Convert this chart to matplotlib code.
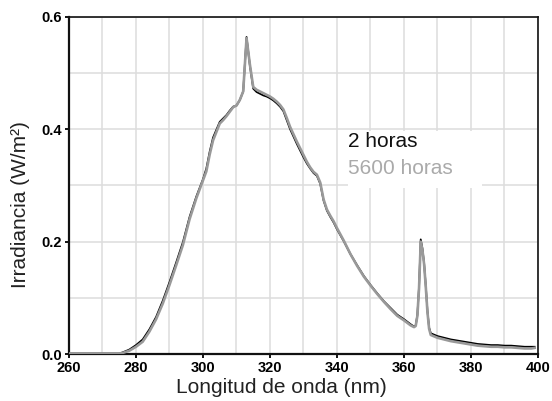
import matplotlib
matplotlib.use("Agg")
import matplotlib.pyplot as plt
from matplotlib.lines import Line2D
from matplotlib.patches import Rectangle

plt.rcParams['font.family'] = ['Liberation Sans', 'DejaVu Sans']

# Wavelength (nm)
wavelength = [260, 265, 270, 275, 276, 278, 280, 282, 284, 286, 288, 290, 292, 294, 296, 298,
              300, 301, 302, 303, 304, 305, 306, 307, 308, 309, 310, 311, 312, 313, 314, 315,
              316, 317, 318, 319, 320, 321, 322, 323, 324, 325, 326, 327, 328, 329, 330, 331,
              332, 333, 334, 335, 336, 337, 338, 339, 340, 342, 344, 346, 348, 350, 352, 354,
              356, 358, 360, 362, 363, 363.5, 364, 364.5, 365, 365.5, 366, 366.5, 367, 367.5,
              368, 370, 372, 374, 376, 378, 380, 382, 384, 386, 388, 390, 392, 394, 396, 398, 399]

# Irradiance after 5600 hours (grey)
irr_5600h = [0.001, 0.001, 0.001, 0.001, 0.002, 0.006, 0.013, 0.022, 0.040, 0.062, 0.090, 0.123,
             0.158, 0.194, 0.240, 0.277, 0.309, 0.325, 0.355, 0.380, 0.395, 0.410, 0.416, 0.423,
             0.431, 0.439, 0.442, 0.452, 0.467, 0.562, 0.515, 0.475, 0.470, 0.467, 0.464, 0.461,
             0.458, 0.454, 0.449, 0.443, 0.435, 0.420, 0.404, 0.391, 0.378, 0.366, 0.354, 0.342,
             0.332, 0.324, 0.319, 0.305, 0.275, 0.257, 0.246, 0.236, 0.224, 0.202, 0.178, 0.157,
             0.138, 0.122, 0.107, 0.093, 0.080, 0.068, 0.060, 0.051, 0.048, 0.050, 0.068, 0.118,
             0.200, 0.185, 0.160, 0.120, 0.075, 0.045, 0.034, 0.029, 0.026, 0.023, 0.021, 0.019,
             0.017, 0.015, 0.014, 0.013, 0.013, 0.012, 0.012, 0.011, 0.010, 0.010, 0.011]

# Irradiance after 2 hours (black)
irr_2h = [0.001, 0.001, 0.001, 0.001, 0.003, 0.008, 0.016, 0.026, 0.044, 0.066, 0.095, 0.128,
          0.163, 0.199, 0.244, 0.280, 0.311, 0.330, 0.360, 0.385, 0.399, 0.413, 0.419, 0.425,
          0.433, 0.440, 0.442, 0.452, 0.467, 0.564, 0.513, 0.472, 0.466, 0.463, 0.460, 0.458,
          0.455, 0.451, 0.446, 0.440, 0.432, 0.416, 0.400, 0.387, 0.374, 0.362, 0.350, 0.339,
          0.330, 0.322, 0.317, 0.303, 0.273, 0.255, 0.244, 0.234, 0.222, 0.201, 0.178, 0.158,
          0.139, 0.123, 0.108, 0.094, 0.082, 0.070, 0.062, 0.053, 0.049, 0.051, 0.070, 0.120,
          0.204, 0.188, 0.162, 0.122, 0.077, 0.047, 0.037, 0.032, 0.029, 0.026, 0.024, 0.022,
          0.020, 0.018, 0.017, 0.016, 0.016, 0.015, 0.015, 0.014, 0.013, 0.013, 0.013]

series_labels = ['2 horas', '5600 horas']
x_ticks = [260, 280, 300, 320, 340, 360, 380, 400]
y_ticks = [0.0, 0.2, 0.4, 0.6]

fig = plt.figure(figsize=(5.52, 4.01), dpi=100)
ax = fig.add_axes([0.125, 0.117, 0.8496, 0.8414])

ax.plot(wavelength, irr_2h, color='black', lw=1.3, zorder=3)
ax.plot(wavelength, irr_5600h, color='#999999', lw=1.9, zorder=4)

ax.set_xlim(260, 400)
ax.set_ylim(0, 0.6)
ax.set_xticks(x_ticks)
ax.set_yticks(y_ticks)
ax.set_xticklabels([str(t) for t in x_ticks], fontweight='bold', fontsize=10.5)
ax.set_yticklabels(['%.1f' % t for t in y_ticks], fontweight='bold', fontsize=10.5)
ax.set_xticks(range(270, 400, 10), minor=True)
ax.set_yticks([0.1, 0.3, 0.5], minor=True)
ax.tick_params(axis='both', which='major', direction='out', length=3, width=1.3, pad=2, colors='black')
ax.tick_params(axis='both', which='minor', length=0)
ax.grid(True, which='both', color='#dddddd', lw=1.1, zorder=0)
ax.set_axisbelow(True)

for side in ['left', 'bottom']:
    ax.spines[side].set_linewidth(1.6)
for side in ['top', 'right']:
    ax.spines[side].set_linewidth(1.2)
for s in ax.spines.values():
    s.set_color('#111111')

ax.set_xlabel('Longitud de onda (nm)', fontsize=15, color='#222222', labelpad=2)
ax.set_ylabel('Irradiancia (W/m²)', fontsize=15, color='#222222', labelpad=8)
ax.xaxis.label.set_x(0.453)
ax.yaxis.label.set_y(0.442)

# white legend box
ax.add_patch(Rectangle((0.594, 0.493), 0.287, 0.168, transform=ax.transAxes,
                       facecolor='white', edgecolor='none', zorder=2))
handles = [Line2D([], [], color='none') for _ in series_labels]
leg = ax.legend(handles, series_labels, loc='upper left', bbox_to_anchor=(0.594, 0.658),
                frameon=False, handlelength=0, handletextpad=0, borderpad=0,
                borderaxespad=0, labelspacing=0.4, fontsize=15)
for txt, col in zip(leg.get_texts(), ['#111111', '#aaaaaa']):
    txt.set_color(col)
leg.set_zorder(5)

fig.savefig('out.png', dpi=100)
